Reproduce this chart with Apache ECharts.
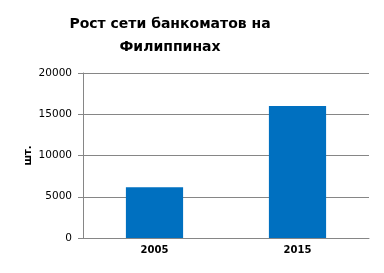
<!DOCTYPE html>
<html><head><meta charset="utf-8">
<script src="https://cdn.jsdelivr.net/npm/echarts@6/dist/echarts.min.js"></script>
<style>html,body{margin:0;padding:0;background:#fff}#c{width:384px;height:273px}</style>
</head><body><div id="c"></div>
<script>
const categories = ['2005', '2015'];
const values = [6150, 16000];
const titleText = 'Рост сети банкоматов на\nФилиппинах';
const yAxisName = 'шт.';

const chart = echarts.init(document.getElementById('c'), null, {renderer: 'canvas'});
chart.setOption({
  animation: false,
  title: {
    text: titleText,
    left: 165, top: 8, textAlign: 'center',
    textStyle: {fontFamily: 'DejaVu Sans', fontWeight: 'bold', fontSize: 14, lineHeight: 23, color: '#000'}
  },
  grid: {left: 83, right: 15, top: 73, bottom: 35},
  xAxis: {
    type: 'category', data: categories,
    axisLine: {lineStyle: {color: '#868686'}},
    axisTick: {show: false},
    axisLabel: {fontFamily: 'DejaVu Sans', fontWeight: 'bold', fontSize: 10, color: '#000', margin: 7}
  },
  yAxis: {
    type: 'value', min: 0, max: 20000, interval: 5000,
    name: yAxisName, nameLocation: 'middle', nameGap: 50, nameRotate: 90,
    nameMoveOverlap: false,
    nameTextStyle: {fontFamily: 'DejaVu Sans', fontWeight: 'bold', fontSize: 10, color: '#000'},
    axisLine: {show: true, lineStyle: {color: '#868686'}},
    axisTick: {show: true, length: 5, lineStyle: {color: '#868686'}},
    splitLine: {lineStyle: {color: '#868686'}},
    axisLabel: {fontFamily: 'DejaVu Sans', fontSize: 10.5, color: '#000', margin: 11,
      formatter: function (v) { return String(v); }}
  },
  series: [{
    type: 'bar', data: values, barWidth: '40%',
    itemStyle: {color: '#0070C0'}
  }]
});
</script></body></html>
